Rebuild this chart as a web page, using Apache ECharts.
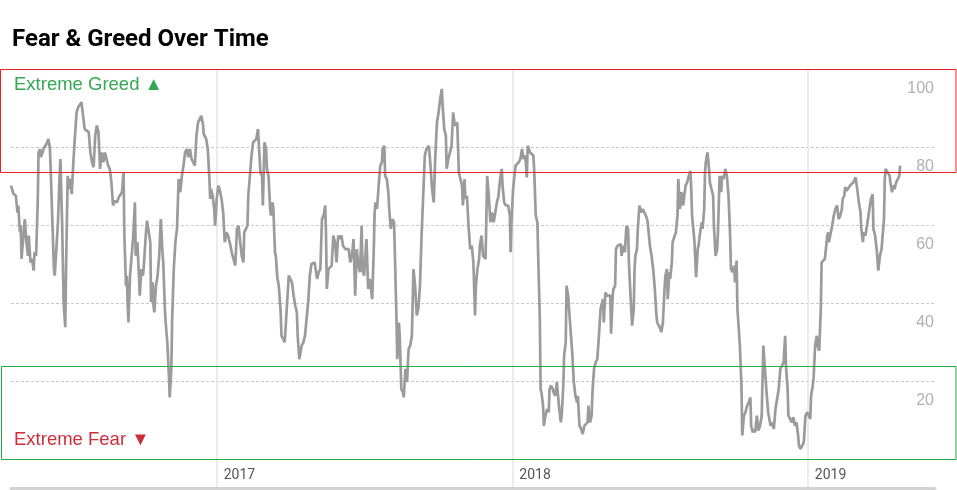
<!DOCTYPE html>
<html><head><meta charset="utf-8">
<script src="https://cdn.jsdelivr.net/npm/echarts@6/dist/echarts.min.js"></script>
<style>html,body{margin:0;padding:0;background:#fff;}#c{width:957px;height:490px;}</style>
</head><body><div id="c"></div>
<script>
const chartTitle = 'Fear & Greed Over Time';
const startDate = [2016, 3, 22];   // first observation (2016-04-22)
const endDate = [2019, 5, 7];      // right end of the time axis
// days since startDate
const dayOffsets = [
0,3,6,8,9,11,12,13,15,17,19,21,22,24,26,28,29,31,33,34,36,37,39,41,44,46,48,49,51,53,54,56,58,60,61,63,65,67,68,70,72,73,75,77,79,81,83,85,87,89,91,93,96,98,100,102,104,106,108,110,112,114,116,118,120,122,124,126,128,131,133,135,137,139,140,142,143,144,145,147,
149,151,153,154,156,158,159,161,163,164,167,168,170,172,173,175,176,177,179,181,183,185,187,188,190,191,193,195,196,198,199,201,203,205,207,209,211,213,215,217,219,221,223,225,227,229,231,233,235,237,238,241,243,245,246,247,249,251,252,254,256,258,260,262,264,266,268,271,273,275,277,279,281,283,285,287,288,290,292,293,295,297,299,301,
303,305,307,308,310,311,313,315,316,318,320,321,323,324,326,327,329,330,331,333,334,336,338,340,341,343,345,347,349,351,353,354,356,357,359,361,363,365,367,369,371,373,375,378,380,382,384,386,388,389,390,392,394,396,398,400,402,404,406,408,410,413,415,417,419,421,423,425,427,429,431,433,434,436,437,439,441,443,446,448,449,450,452,454,456,
458,459,461,462,464,466,467,469,471,473,474,476,477,479,480,482,484,485,487,489,491,493,495,497,499,501,503,505,507,509,511,513,516,518,520,522,524,526,528,530,532,533,535,537,538,540,542,544,546,548,551,552,553,555,557,558,560,561,563,565,567,569,571,573,574,576,578,579,581,583,586,588,590,592,594,596,598,600,602,604,606,607,609,611,
614,616,617,618,620,623,625,627,629,631,633,635,637,638,640,641,643,645,646,648,650,651,653,654,655,657,658,660,662,664,665,667,669,670,672,674,676,677,679,680,682,683,685,686,688,690,693,695,697,699,700,702,704,706,708,710,712,713,715,717,718,720,722,724,726,728,730,731,732,734,736,738,740,741,743,744,746,747,749,751,753,754,756,758,760,762,763,765,767,769,
770,771,773,774,776,778,780,782,784,786,788,789,791,793,795,797,798,800,802,803,805,807,808,810,811,813,814,816,817,819,821,823,824,826,828,830,833,835,837,839,840,841,843,844,846,848,849,851,853,854,856,857,858,860,862,863,865,867,868,870,872,873,875,877,878,880,882,884,886,888,889,891,893,894,896,897,899,900,902,903,905,907,909,911,913,914,916,917,919,921,923,
925,927,929,931,933,935,938,940,942,944,946,948,950,952,954,956,957,959,960,962,964,966,968,970,972,973,975,977,979,981,983,985,987,988,990,991,993,995,996,998,1000,1001,1003,1005,1008,1009,1010,1012,1014,1016,1018,1020,1022,1024,1026,1027,1029,1030,1032,1034,1036,1038,1040,1043,1045,1047,1049,1050,1052,1053,1055,1057,1059,1060,1062,1064,1065,1067,1069,1071,1073,1075,1078,1079,1080,1082,1085,1086,1088,1089,1091,1093,1095,1097,1098
];
const values = [
70.1,68,67.5,63.2,65,58.1,59.8,51.3,56.4,61.5,55.6,52.1,57.3,50.4,51.3,48.3,53,52.1,65.8,78.6,79.5,77.4,78.6,79.9,80.8,82.1,79.9,74.4,61.5,48.7,47,53.8,60.7,72.6,76.9,61.5,40.2,33.8,48.7,72.6,69.2,71.8,67.9,76.1,82.9,88.9,90.2,90.6,91.5,88,84.6,85,83.8,78.6,76.1,74.8,82.9,85.5,83.8,74.4,78.6,76.1,78.6,76.9,75.2,74.4,70.9,65,66.2,65.8,67.1,67.5,68.4,73.5,57.3,44.4,47,40.2,35,47,
47,57.3,65.8,52.1,55.6,47,41.9,48.7,47,49.6,59,61.1,61.5,55.6,40.2,45.3,39.3,37.6,44.4,47,52.1,61.5,53,50.4,38.5,35,29.9,21.4,15.8,23.1,35.9,48.7,55.6,59,71.8,68.4,72.6,75.2,78.6,79.5,77.4,79.5,76.9,76.1,75.2,82.9,86.3,86.8,88,85.9,83.3,82.1,79.5,71.8,66.7,69.2,67.5,64.1,59.8,66.7,70.1,68.8,66.7,63.2,55.6,58.1,57.3,54.7,52.6,52.1,49.6,59,59.8,55.6,52.1,50.4,58.1,58.5,59.8,67.5,72.6,77.8,81.2,81.6,
82.1,84.6,84.6,73.5,72.6,65,81.2,79.5,74.4,72.6,64.1,62.4,65.8,64.1,53,52.1,46.2,45.3,43.6,37.6,31.6,30.8,29.9,29.9,40.2,47,46.6,45.3,41.9,39.3,37.6,31.6,25.6,25.6,29.1,29.9,31.6,35.9,40.2,47,50,50.4,50.4,46.2,47.9,48.7,61.5,62.4,65,57.3,43.6,48.7,48.7,49.6,57.3,55.6,50.4,57.3,56.4,57.3,54.7,53.8,53.4,53.8,50.4,52.1,56.4,41.9,53.8,49.6,47.9,59.8,48.7,47,50.4,56.4,43.6,46.2,41,53.8,63.2,65.8,64.1,70.1,75.2,
76.1,79.5,80.3,72.6,71.8,68.4,64.1,59,61.5,60.7,53,35.9,25.6,35,31.6,17.9,17.1,15.8,23.1,19.7,28.2,29.1,31.6,48.7,44.4,36.8,38.5,44.4,57.3,67.5,77.8,79.5,80.3,75.2,69.2,65.8,77.8,86.3,88.9,92.3,94.9,90.6,84.6,82.9,74.4,76.9,78.6,80.3,88.9,85.5,86.3,80.3,73.5,71.8,70.1,65,71.8,66.7,67.5,59.8,53.8,54.7,50.4,36.8,44.4,48.7,51.3,54.7,57.3,52.1,51.3,72.6,67.5,60.7,63.2,60.7,63.2,65.8,67.5,71.8,74.4,70.1,65.8,65,
65,62.4,53,60.7,69.2,75.2,75.2,76.1,76.9,79.5,76.9,77.8,72.2,80.3,79.9,78.6,79.1,77.8,74.4,62.4,60.7,52.1,35.9,17.9,17.1,13.7,8.5,11.1,12.8,12,17.9,18.8,17.9,17.1,16.2,19.7,20.1,12.8,9.4,11.1,18.8,26.5,29.9,44.4,41.9,35.9,27.4,19.7,16.2,14.5,16.2,8.5,7.7,6.4,8.5,8.1,9.4,13.7,9.4,11.1,17.1,23.1,24.8,25.6,31.6,38.5,40.2,41,35,42.7,41.9,41.9,41.9,32.1,41.9,43.6,44.4,53.8,54.7,54.7,55.1,52.1,54.7,53,59.8,59,50.4,41.9,34.2,38.5,
48.7,52.1,53.8,59,65,63.2,64.1,63.7,62.4,61.1,60.7,54.7,52.1,48.7,43.6,36.8,35,34.2,33.3,32.5,35,43.6,47,48.7,41,47.9,46.2,50.4,55.6,56,58.1,62.4,71.8,64.1,68.4,65,70.1,70.9,72.6,73.9,69.2,62.4,58.1,55.6,46.6,53.8,54.7,58.1,60.7,59,64.1,73.5,76.1,78.6,74.4,70.9,69.2,67.5,59.8,52.1,53.8,58.1,72.6,68.4,72.6,71.8,74.4,72.6,67.5,57.3,48.7,47.9,49.6,45.3,50.9,38.5,32.5,29.1,18.8,6,11.1,12,13.7,14.5,15.8,8.5,6.8,7.7,6.8,11.1,7.3,
8.5,11.1,29.1,23.1,17.1,12,8.5,9.4,7.7,12.8,12.8,17.9,23.1,23.9,24.8,31.6,23.9,17.9,11.1,10.3,9.4,10.7,8.5,9.4,6,3.4,2.6,2.6,4.3,11.1,12,12.4,10.3,16.2,18.8,20.5,29.1,31.6,29.1,27.8,38.5,50.4,50.9,51.3,57.3,58.1,55.6,55.6,59.8,62.4,64.1,65,61.5,62.4,64.1,66.7,67.5,69.7,68.8,69.2,70.1,70.1,70.9,72.2,69.2,65.8,63.2,59,55.6,58.1,57.3,59.8,59.8,64.1,66.7,67.9,59,57.3,53.8,48.3,52.1,53.8,61.5,71.8,74.4,74.4,72.6,70.9,68.4,70.1,69.2,70.9,70.9,72.6,75.2
];
const yTicks = [20, 40, 60, 80, 100];
const yearLabels = ['2017', '2018', '2019'];
const zoneLabels = ['Extreme Greed \u25B2', 'Extreme Fear \u25BC'];
const greedZone = [73.5, 100];
const fearZone = [0, 23.8];

const DAY = 86400000;
const t0 = Date.UTC(startDate[0], startDate[1], startDate[2]);
const t1 = Date.UTC(endDate[0], endDate[1], endDate[2]);
const seriesData = dayOffsets.map((d, i) => [t0 + d * DAY, values[i]]);

const FONT = "'Liberation Sans', Arial, sans-serif";
const chart = echarts.init(document.getElementById('c'), null, {renderer: 'canvas'});
const option = {
  animation: false,
  backgroundColor: '#fff',
  grid: {left: 11, right: 22, top: 69, bottom: 31, containLabel: false},
  xAxis: [{
    type: 'time', min: t0, max: t1,
    minInterval: 365 * DAY, maxInterval: 366 * DAY,
    axisLine: {show: false},
    axisTick: {show: true, length: 28, lineStyle: {color: '#e6e6e6', width: 1.5}},
    splitLine: {show: true, showMinLine: false, showMaxLine: false, lineStyle: {color: '#e6e6e6', width: 1.5}},
    axisLabel: {
      show: true, showMinLabel: false, showMaxLabel: false,
      align: 'left', padding: [0, 0, 0, 7], margin: 9,
      color: '#555', fontSize: 14, fontFamily: 'Roboto, ' + FONT,
      formatter: function (v) {
        const d = new Date(v);
        const y = String(d.getUTCFullYear());
        return (d.getUTCMonth() === 0 && d.getUTCDate() === 1 && yearLabels.includes(y)) ? y : '';
      }
    }
  }, {
    type: 'time', min: t0, max: t1, position: 'bottom', offset: 29,
    axisLine: {show: true, lineStyle: {color: '#d3d3d3', width: 3}},
    axisTick: {show: false}, axisLabel: {show: false}, splitLine: {show: false}
  }],
  yAxis: {
    type: 'value', min: 0, max: 100, interval: 20, position: 'right',
    axisLine: {show: false}, axisTick: {show: false},
    splitLine: {show: true, lineStyle: {color: '#c8c8c8', type: [3, 2], width: 1}},
    axisLabel: {
      inside: true, margin: 1, showMinLabel: false,
      verticalAlign: 'top', padding: [12, 0, 0, 0],
      color: '#b0b0b0', fontSize: 16, fontFamily: FONT,
      formatter: v => yTicks.includes(v) ? String(v) : ''
    }
  },
  series: [{
    type: 'line', data: seriesData, showSymbol: false, symbol: 'none',
    lineStyle: {color: '#9b9b9b', width: 2.7}, z: 3
  }]
};
chart.setOption(option);

const yp = v => chart.convertToPixel({yAxisIndex: 0}, v);
const gTop = yp(greedZone[1]), gBot = yp(greedZone[0]);
const fTop = yp(fearZone[1]), fBot = yp(fearZone[0]);
chart.setOption({
  graphic: [
    {type: 'text', left: 12, top: 28, z: 100,
     style: {text: chartTitle, fill: '#000', font: "bold 24px Roboto, " + FONT}},
    {type: 'text', x: 14, y: 85, z: 100,
     style: {text: zoneLabels[0], fill: '#35a853', font: "18.5px " + FONT, textVerticalAlign: 'middle'}},
    {type: 'text', x: 14, y: 440, z: 100,
     style: {text: zoneLabels[1], fill: '#cc2f3c', font: "18.5px " + FONT, textVerticalAlign: 'middle'}},
    {type: 'rect', z: 100, shape: {x: 0.5, y: Math.round(gTop) + 0.5, width: 955.5, height: Math.round(gBot - gTop)},
     style: {fill: 'none', stroke: '#ee1c25', lineWidth: 1}},
    {type: 'rect', z: 100, shape: {x: 1.5, y: Math.round(fTop) + 0.5, width: 954.5, height: Math.round(fBot - fTop)},
     style: {fill: 'none', stroke: '#1fae45', lineWidth: 1}}
  ]
});
</script>
</body></html>
